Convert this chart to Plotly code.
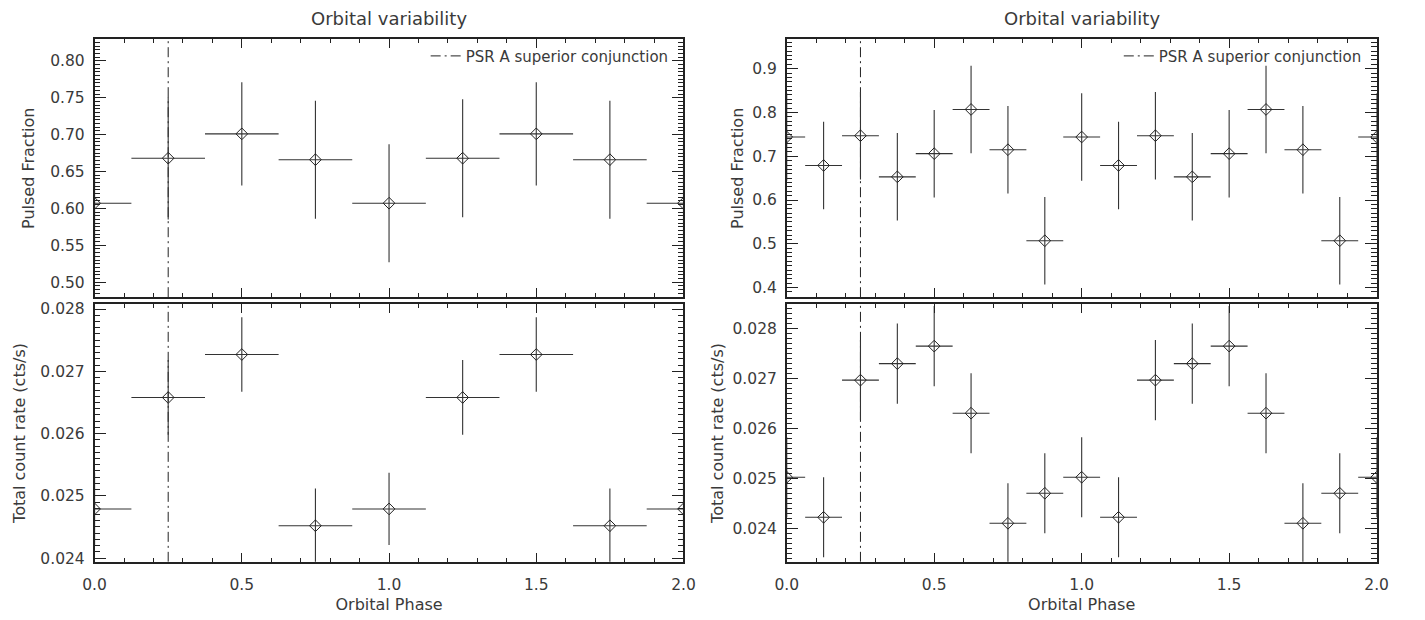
import plotly.graph_objects as go

# ---------------- data ----------------
phase_left = [0.0, 0.25, 0.5, 0.75, 1.0, 1.25, 1.5, 1.75, 2.0]
phase_left_err = [0.125] * 9
pf_left = [0.607, 0.668, 0.701, 0.666, 0.607, 0.668, 0.701, 0.666, 0.607]
pf_left_err = [0.08, 0.083, 0.07, 0.08, 0.08, 0.08, 0.07, 0.08, 0.08]
rate_left = [0.02479, 0.02658, 0.02727, 0.02452, 0.02479, 0.02658, 0.02727, 0.02452, 0.02479]
rate_left_err = [0.00058, 0.0006, 0.0006, 0.0006, 0.00058, 0.0006, 0.0006, 0.0006, 0.00058]

phase_right = [0.0, 0.125, 0.25, 0.375, 0.5, 0.625, 0.75, 0.875, 1.0,
               1.125, 1.25, 1.375, 1.5, 1.625, 1.75, 1.875, 2.0]
phase_right_err = [0.0625] * 17
pf_right = [0.744, 0.679, 0.747, 0.653, 0.706, 0.807, 0.715, 0.507, 0.744,
            0.679, 0.747, 0.653, 0.706, 0.807, 0.715, 0.507, 0.744]
pf_right_err = [0.1] * 17
rate_right = [0.02503, 0.02423, 0.02697, 0.02730, 0.02765, 0.02631, 0.02411, 0.02471, 0.02503,
              0.02423, 0.02697, 0.02730, 0.02765, 0.02631, 0.02411, 0.02471, 0.02503]
rate_right_err = [0.0008] * 17

conj_phase = 0.25
conj_label = "PSR A superior conjunction"
panel_title = "Orbital variability"
x_title = "Orbital Phase"
pf_title = "Pulsed Fraction"
rate_title = "Total count rate (cts/s)"

x_range = [0.0, 2.0]
pf_left_range = [0.4796, 0.829]
rate_left_range = [0.02394, 0.02808]
pf_right_range = [0.378, 0.967]
rate_right_range = [0.02334, 0.02849]

# ---------------- layout geometry ----------------
W, H = 1425, 620
FONT = "DejaVu Sans"
INK = "#222222"
TXT = "#3a3a3a"

def px_x(a, b):
    return [a / W, b / W]

def px_y(top, bottom):
    return [(H - bottom) / H, (H - top) / H]

left_dom = px_x(84, 683)
right_dom = px_x(788, 1388)
top_dom = px_y(36, 298)
bot_dom = px_y(305, 567)

fig = go.Figure()

def add_data(x, xe, y, ye, xa, ya):
    fig.add_trace(go.Scatter(
        x=x, y=y, xaxis=xa, yaxis=ya, mode="markers", showlegend=False,
        marker=dict(symbol="diamond-open", size=9, color=INK, line=dict(width=1, color=INK)),
        error_x=dict(type="data", array=xe, visible=True, width=0, thickness=1.1, color="#333333"),
        error_y=dict(type="data", array=ye, visible=True, width=0, thickness=1.1, color="#333333"),
    ))

def add_conj(xa, ya, rng, legend=None):
    fig.add_trace(go.Scatter(
        x=[conj_phase, conj_phase], y=rng, xaxis=xa, yaxis=ya, mode="lines",
        name=conj_label, showlegend=legend is not None, legend=legend or "legend",
        line=dict(color=INK, width=1, dash="10px,4px,2px,4px"),
    ))

# left column
add_conj("x", "y", pf_left_range, "legend")
add_data(phase_left, phase_left_err, pf_left, pf_left_err, "x", "y")
add_conj("x2", "y2", rate_left_range)
add_data(phase_left, phase_left_err, rate_left, rate_left_err, "x2", "y2")
# right column
add_conj("x3", "y3", pf_right_range, "legend2")
add_data(phase_right, phase_right_err, pf_right, pf_right_err, "x3", "y3")
add_conj("x4", "y4", rate_right_range)
add_data(phase_right, phase_right_err, rate_right, rate_right_err, "x4", "y4")

def xaxis(dom, anchor, labels):
    return dict(
        domain=dom, anchor=anchor, range=x_range, showgrid=False, zeroline=False,
        showline=True, linecolor=INK, linewidth=1.5, mirror="ticks",
        ticks="inside", ticklen=9, tickwidth=1, tickcolor=INK,
        tickmode="linear", tick0=0, dtick=0.5, tickformat=".1f", showticklabels=labels,
        tickfont=dict(family=FONT, size=15.5, color=TXT), ticklabelstandoff=8,
        minor=dict(tickmode="linear", tick0=0, dtick=0.1, ticklen=4, ticks="inside",
                   tickcolor=INK, tickwidth=1, showgrid=False),
        title=dict(text=x_title if labels else "", font=dict(family=FONT, size=16, color=TXT), standoff=6),
    )

def yaxis(dom, anchor, rng, dt, mdt, fmt, title, standoff):
    return dict(
        domain=dom, anchor=anchor, range=rng, showgrid=False, zeroline=False,
        showline=True, linecolor=INK, linewidth=1.5, mirror="ticks",
        ticks="inside", ticklen=12, tickwidth=1, tickcolor=INK,
        tickmode="linear", tick0=0, dtick=dt, tickformat=fmt,
        tickfont=dict(family=FONT, size=15.5, color=TXT), ticklabelstandoff=5,
        minor=dict(tickmode="linear", tick0=0, dtick=mdt, ticklen=6, ticks="inside",
                   tickcolor=INK, tickwidth=1, showgrid=False),
        title=dict(text=title, font=dict(family=FONT, size=16, color=TXT), standoff=standoff),
    )

legend_common = dict(
    xanchor="right", yanchor="middle", bgcolor="rgba(0,0,0,0)",
    font=dict(family=FONT, size=15, color=TXT), borderwidth=0,
)

fig.update_layout(
    width=W, height=H, margin=dict(l=0, r=0, t=0, b=0),
    paper_bgcolor="white", plot_bgcolor="white",
    xaxis=xaxis(left_dom, "y", False),
    yaxis=yaxis(top_dom, "x", pf_left_range, 0.05, 0.005, ".2f", pf_title, 12),
    xaxis2=xaxis(left_dom, "y2", True),
    yaxis2=yaxis(bot_dom, "x2", rate_left_range, 0.001, 0.0001, ".3f", rate_title, 11),
    xaxis3=xaxis(right_dom, "y3", False),
    yaxis3=yaxis(top_dom, "x3", pf_right_range, 0.1, 0.01, ".1f", pf_title, 5),
    xaxis4=xaxis(right_dom, "y4", True),
    yaxis4=yaxis(bot_dom, "x4", rate_right_range, 0.001, 0.0001, ".3f", rate_title, 5),
    legend=dict(x=(683 - 10) / W, y=(H - 53) / H, **legend_common),
    legend2=dict(x=(1388 - 10) / W, y=(H - 53) / H, **legend_common),
    annotations=[
        dict(text=panel_title, xref="paper", yref="paper",
             x=sum(left_dom) / 2, y=(H - 15) / H, showarrow=False,
             font=dict(family=FONT, size=18, color=TXT), xanchor="center", yanchor="middle"),
        dict(text=panel_title, xref="paper", yref="paper",
             x=sum(right_dom) / 2, y=(H - 15) / H, showarrow=False,
             font=dict(family=FONT, size=18, color=TXT), xanchor="center", yanchor="middle"),
    ],
)

fig.write_html("out.html")
